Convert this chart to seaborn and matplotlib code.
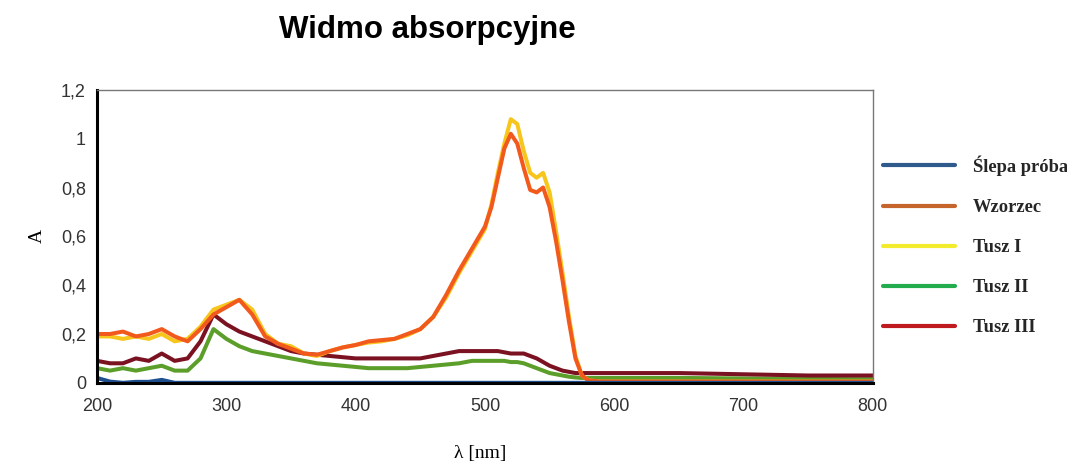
import numpy as np
import pandas as pd
import matplotlib
matplotlib.use("Agg")
import matplotlib.pyplot as plt
import seaborn as sns
from matplotlib.lines import Line2D
from matplotlib.ticker import FuncFormatter

# ==========================================
# DANE
# ==========================================
dlugosc_fali = ([200, 210, 220, 230, 240, 250, 260, 270, 280, 290,
                 300, 310, 320, 330, 340, 350, 360, 370, 380, 390,
                 400, 410, 420, 430, 440, 450, 460, 470, 480, 490]
                + [500, 505, 510, 515, 520, 525, 530, 535, 540, 545,
                   550, 555, 560, 565, 570, 575, 580]
                + [590, 600, 650, 700, 750, 800])

slepa_proba = [0.02, 0.005, 0.0, 0.004, 0.004, 0.012, 0.0, 0.0, 0.0, 0.0,
               0.0, 0.0, 0.0, 0.0, 0.0, 0.0, 0.0, 0.0, 0.0, 0.0,
               0.0, 0.0, 0.0, 0.0, 0.0, 0.0, 0.0, 0.0, 0.0, 0.0,
               0.0, 0.0, 0.0, 0.0, 0.0, 0.0, 0.0, 0.0, 0.0, 0.0,
               0.0, 0.0, 0.0, 0.0, 0.0, 0.0, 0.0,
               0.0, 0.0, 0.0, 0.0, 0.0, 0.0]

wzorzec = [0.20, 0.20, 0.21, 0.19, 0.20, 0.22, 0.19, 0.17, 0.22, 0.28,
           0.31, 0.34, 0.28, 0.19, 0.16, 0.14, 0.12, 0.115, 0.13, 0.145,
           0.155, 0.17, 0.175, 0.18, 0.20, 0.22, 0.27, 0.36, 0.46, 0.55,
           0.64, 0.72, 0.84, 0.96, 1.02, 0.98, 0.88, 0.79, 0.78, 0.80,
           0.72, 0.58, 0.42, 0.25, 0.10, 0.03, 0.01,
           0.005, 0.005, 0.005, 0.005, 0.005, 0.005]

tusz_1 = [0.19, 0.19, 0.18, 0.19, 0.18, 0.20, 0.17, 0.18, 0.23, 0.30,
          0.32, 0.34, 0.30, 0.20, 0.16, 0.15, 0.12, 0.11, 0.13, 0.145,
          0.155, 0.165, 0.17, 0.18, 0.195, 0.22, 0.27, 0.35, 0.45, 0.54,
          0.63, 0.73, 0.86, 0.98, 1.08, 1.06, 0.95, 0.86, 0.84, 0.86,
          0.78, 0.62, 0.45, 0.27, 0.11, 0.03, 0.01,
          0.005, 0.005, 0.005, 0.005, 0.005, 0.005]

tusz_2 = [0.06, 0.05, 0.06, 0.05, 0.06, 0.07, 0.05, 0.05, 0.10, 0.22,
          0.18, 0.15, 0.13, 0.12, 0.11, 0.10, 0.09, 0.08, 0.075, 0.07,
          0.065, 0.06, 0.06, 0.06, 0.06, 0.065, 0.07, 0.075, 0.08, 0.09,
          0.09, 0.09, 0.09, 0.09, 0.085, 0.085, 0.08, 0.07, 0.06, 0.05,
          0.04, 0.035, 0.03, 0.025, 0.022, 0.02, 0.02,
          0.02, 0.02, 0.02, 0.018, 0.016, 0.015]

tusz_3 = [0.09, 0.08, 0.08, 0.10, 0.09, 0.12, 0.09, 0.10, 0.17, 0.28,
          0.24, 0.21, 0.19, 0.17, 0.15, 0.13, 0.12, 0.115, 0.11, 0.105,
          0.10, 0.10, 0.10, 0.10, 0.10, 0.10, 0.11, 0.12, 0.13, 0.13,
          0.13, 0.13, 0.13, 0.125, 0.12, 0.12, 0.12, 0.11, 0.10, 0.085,
          0.07, 0.06, 0.05, 0.045, 0.04, 0.04, 0.04,
          0.04, 0.04, 0.04, 0.035, 0.03, 0.03]

serie = ["Ślepa próba", "Wzorzec", "Tusz I", "Tusz II", "Tusz III"]

# kolory linii na wykresie i w legendzie (w oryginale sie roznia)
kolory_linii = {"Ślepa próba": "#1d4f8f", "Wzorzec": "#f25a1d", "Tusz I": "#f7c61d",
                "Tusz II": "#5c9e2a", "Tusz III": "#7b1222"}
kolory_legendy = ["#2e5b8c", "#c5652c", "#f3ec2c", "#22ac4e", "#bf1a1f"]

df = pd.DataFrame({
    "wl": dlugosc_fali * 5,
    "A": slepa_proba + wzorzec + tusz_1 + tusz_2 + tusz_3,
    "seria": sum([[s] * len(dlugosc_fali) for s in serie], []),
})

# ==========================================
# WYKRES
# ==========================================
sns.set_style("white")
plt.rcParams['font.family'] = ['Liberation Sans', 'DejaVu Sans']

fig = plt.figure(figsize=(10.67, 4.68), dpi=100)
ax = fig.add_axes([0.091, 0.182, 0.727, 0.626])

kolejnosc = ["Tusz II", "Tusz III", "Tusz I", "Wzorzec", "Ślepa próba"]
sns.lineplot(data=df, x="wl", y="A", hue="seria", hue_order=kolejnosc,
             palette=kolory_linii, linewidth=2.9, legend=False, ax=ax)

ax.set_xlim(200, 800)
ax.set_ylim(0, 1.2)
ax.set_xticks([200, 300, 400, 500, 600, 700, 800])
ax.set_yticks([0, 0.2, 0.4, 0.6, 0.8, 1.0, 1.2])
ax.yaxis.set_major_formatter(FuncFormatter(lambda v, p: f"{v:g}".replace(".", ",")))
ax.tick_params(axis='both', direction='out', length=6, width=2.2, color='black',
               labelsize=13, labelcolor='#333333')
ax.tick_params(axis='x', pad=5)
ax.tick_params(axis='y', pad=2)

for s in ['left', 'bottom']:
    ax.spines[s].set_color('black')
    ax.spines[s].set_linewidth(2.2)
for s in ['top', 'right']:
    ax.spines[s].set_color('#777777')
    ax.spines[s].set_linewidth(1.0)

ax.set_xlabel("")
ax.set_ylabel("")
fig.text(0.45, 0.022, "λ [nm]", family='Liberation Serif', fontsize=14, ha='center',
         va='baseline', color='black')
fig.text(0.027, 0.495, "A", family='Liberation Serif', fontsize=14, rotation=90,
         va='center', color='black')

fig.text(0.401, 0.936, "Widmo absorpcyjne", fontsize=22.5, fontweight='bold',
         ha='center', va='center', color='black')

uchwyty = [Line2D([0], [0], color=c, linewidth=3) for c in kolory_legendy]
fig.legend(uchwyty, serie, loc='upper left', bbox_to_anchor=(0.8276, 0.668),
           frameon=False, handlelength=3.9, handletextpad=0.95, labelspacing=1.25,
           borderpad=0, borderaxespad=0,
           prop={'family': 'Liberation Serif', 'weight': 'bold', 'size': 13.3})

plt.savefig("out.png", dpi=100)
plt.close()
